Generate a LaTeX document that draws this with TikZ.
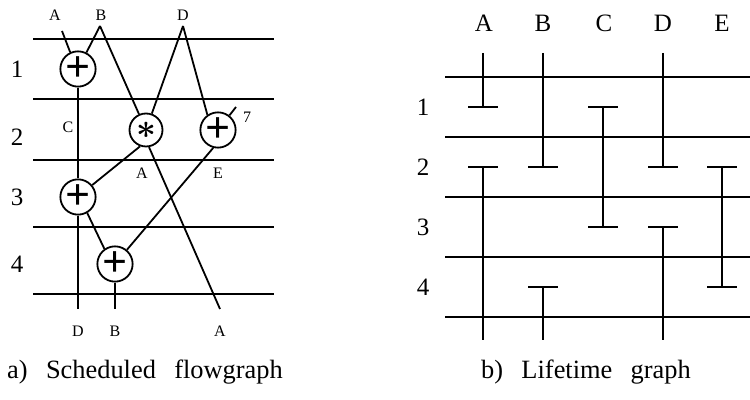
\documentclass[tikz,border=0pt]{standalone}
\usepackage{fontspec}
\setmainfont{Liberation Serif}
\tikzset{
  op/.style={draw,circle,minimum size=16.5pt,inner sep=0pt,font=\fontsize{22}{22}\selectfont\bfseries},
  sig/.style={font=\fontsize{8}{8}\selectfont},
  num/.style={font=\fontsize{12.5}{12.5}\selectfont},
  capt/.style={font=\fontsize{13.2}{13.2}\selectfont},
}
\begin{document}
\begin{tikzpicture}[x=0.5pt,y=-0.5pt,line width=0.9pt]
  \useasboundingbox (0,0) rectangle (750,400);
  % a) scheduled flowgraph
  \foreach \y in {39,99,160,227,294}
    \draw (33,\y) -- (274,\y);
  \foreach \n/\y in {1/69,2/137,3/197,4/264}
    \node[num] (rowa\n) at (17,\y) {\n};
  \node[op] (add1) at (78,69) {+};
  \node[op,font=\fontsize{17}{17}\selectfont\boldmath] (mul) at (146,130) {$\ast$};
  \node[op] (add2) at (218,130) {+};
  \node[op] (add3) at (78,197) {+};
  \node[op] (add4) at (115,264) {+};
  \node[sig] (inA) at (55,15) {A};
  \node[sig] (inB) at (101,15) {B};
  \node[sig] (inD) at (183,15) {D};
  \coordinate (srcA) at (62,31);
  \coordinate (srcB) at (100,26);
  \coordinate (srcD) at (183,26);
  \coordinate (src7) at (236,107);
  \node[sig] (k7) at (247,117) {7};
  \coordinate (outD) at (78,309);
  \coordinate (outB) at (115,309);
  \coordinate (outA) at (220,309);
  \node[sig] (resD) at (78,331) {D};
  \node[sig] (resB) at (115,331) {B};
  \node[sig] (resA) at (220,331) {A};
  \node[sig] (sigC) at (68,127) {C};
  \node[sig] (sigA) at (142,173) {A};
  \node[sig] (sigE) at (218,173) {E};
  \draw (srcA) -- (add1.115);
  \draw (srcB) -- (add1);
  \draw (srcB) -- (mul);
  \draw (srcD) -- (mul);
  \draw (srcD) -- (add2.125);
  \draw (src7) -- (add2);
  \draw (add1) -- (add3);
  \draw (add3) -- (outD);
  \draw (mul.-110) -- (add3.40);
  \draw (mul.-80) -- (outA);
  \draw (add2.-105) -- (add4.50);
  \draw (add3.-60) -- (add4.125);
  \draw (add4) -- (outB);
  \node[capt] (capa) at (145,372) {a)\;\, Scheduled\;\, flowgraph};
  % b) lifetime graph
  \foreach \y in {77,137,197,257,317}
    \draw (445,\y) -- (750,\y);
  \foreach \n/\y in {1/107,2/167,3/227,4/287}
    \node[num] (rowb\n) at (423,\y) {\n};
  \foreach \v/\x in {A/484,B/543,C/604,D/663,E/722}
    \node[num] (var\v) at (\x,23) {\v};
  \foreach \x/\a/\b in {483/53/107,483/167/340,543/53/167,543/287/340,
      603/107/227,663/53/167,663/227/340,722/167/287}
    \draw (\x,\a) -- (\x,\b);
  \foreach \x/\y in {483/107,483/167,543/167,543/287,603/107,603/227,
      663/167,663/227,722/167,722/287}
    \draw (\x-15,\y) -- (\x+15,\y);
  \node[capt] (capb) at (586,372) {b)\;\, Lifetime\;\, graph};
\end{tikzpicture}
\end{document}
